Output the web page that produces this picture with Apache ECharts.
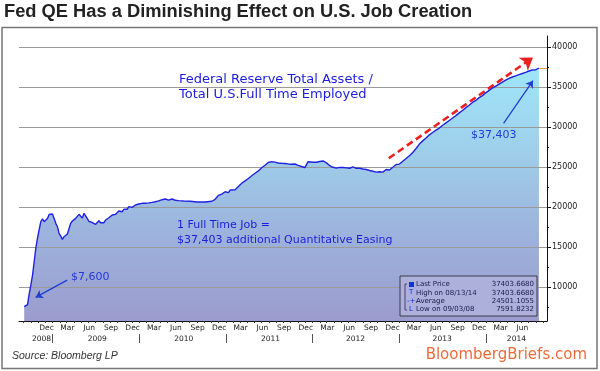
<!DOCTYPE html>
<html><head><meta charset="utf-8">
<script src="https://cdn.jsdelivr.net/npm/echarts@6/dist/echarts.min.js"></script>
<style>html,body{margin:0;padding:0;background:#fff}#c{width:600px;height:371px}</style>
</head><body><div id="c"></div>
<script>
const dates = [
'2008-09-03','2008-09-10','2008-09-17','2008-09-24','2008-10-01','2008-10-08','2008-10-15','2008-10-22','2008-10-29','2008-11-05',
'2008-11-12','2008-11-19','2008-11-26','2008-12-03','2008-12-10','2008-12-17','2008-12-24','2008-12-31','2009-01-07','2009-01-14',
'2009-01-21','2009-01-28','2009-02-04','2009-02-11','2009-02-18','2009-02-25','2009-03-04','2009-03-11','2009-03-18','2009-03-25',
'2009-04-01','2009-04-08','2009-04-15','2009-04-22','2009-04-29','2009-05-06','2009-05-13','2009-05-20','2009-05-27','2009-06-03',
'2009-06-10','2009-06-17','2009-06-24','2009-07-01','2009-07-08','2009-07-15','2009-07-22','2009-07-29','2009-08-05','2009-08-12',
'2009-08-19','2009-08-26','2009-09-02','2009-09-09','2009-09-16','2009-09-23','2009-09-30','2009-10-07','2009-10-14','2009-10-21',
'2009-10-28','2009-11-04','2009-11-11','2009-11-18','2009-11-25','2009-12-02','2009-12-09','2009-12-16','2009-12-23','2009-12-30',
'2010-01-06','2010-01-13','2010-01-20','2010-01-27','2010-02-10','2010-02-24','2010-03-10','2010-03-24','2010-04-07','2010-04-21',
'2010-05-05','2010-05-19','2010-06-02','2010-06-16','2010-07-07','2010-08-04','2010-09-01','2010-10-06','2010-11-03','2010-11-17',
'2010-12-01','2010-12-15','2010-12-29','2011-01-12','2011-01-19','2011-01-26','2011-02-09','2011-02-23','2011-03-09','2011-03-23',
'2011-04-06','2011-04-20','2011-05-04','2011-05-18','2011-06-01','2011-06-15','2011-06-29','2011-07-13','2011-07-27','2011-08-10',
'2011-08-24','2011-09-07','2011-09-21','2011-10-05','2011-10-19','2011-11-02','2011-11-16','2011-11-30','2011-12-07','2011-12-14',
'2011-12-21','2012-01-04','2012-01-18','2012-02-01','2012-02-15','2012-02-29','2012-03-14','2012-03-28','2012-04-11','2012-04-25',
'2012-05-09','2012-05-23','2012-06-06','2012-06-20','2012-07-04','2012-07-18','2012-08-01','2012-08-15','2012-08-29','2012-09-12',
'2012-09-26','2012-10-03','2012-10-10','2012-10-17','2012-10-24','2012-11-07','2012-11-21','2012-12-05','2012-12-19','2013-01-02',
'2013-01-16','2013-01-30','2013-02-13','2013-02-27','2013-03-13','2013-03-27','2013-04-10','2013-04-24','2013-05-08','2013-05-22',
'2013-06-05','2013-06-19','2013-07-03','2013-07-17','2013-07-31','2013-08-14','2013-08-28','2013-09-11','2013-09-25','2013-10-09',
'2013-10-23','2013-11-06','2013-11-20','2013-12-04','2013-12-18','2014-01-01','2014-01-15','2014-01-29','2014-02-12','2014-02-26',
'2014-03-12','2014-03-26','2014-04-09','2014-04-23','2014-05-07','2014-05-21','2014-06-04','2014-06-18','2014-07-02','2014-07-16',
'2014-07-30','2014-08-06','2014-08-13'];
const values = [
7592,7700,7850,9200,10300,11500,13200,14900,16150,17200,
18200,18550,18200,18000,18600,19100,19050,19160,18600,18000,
17580,16750,16400,16000,16330,16550,16660,16830,18000,18290,
18500,18620,18700,19125,19300,18650,19250,19375,18600,18250,
18200,18100,18000,17880,18000,18330,18080,17880,18080,18410,
18500,18700,18830,19040,19250,19125,19330,19540,19660,19450,
19750,19580,19750,20080,19870,20000,20160,20290,20250,20410,
20410,20500,20650,20500,20550,20620,20700,20800,20950,21040,
20900,21040,20880,20830,20790,20750,20660,20660,20760,21000,
21500,21650,21950,21830,22160,21950,22200,22600,23000,23300,
23600,23950,24250,24550,24950,25250,25600,25700,25650,25540,
25500,25480,25420,25375,25410,25250,25100,24970,25200,25700,
25830,25625,25625,25720,25790,25550,25220,25000,24900,24990,
24970,24930,24880,25050,24875,24875,24780,24720,24600,24500,
24400,24380,24450,24580,24400,24720,24660,25000,25350,25400,
25750,26100,26450,26850,27350,27900,28300,28650,29050,29350,
29650,29900,30250,30550,30850,31150,31450,31800,32100,32450,
32750,33100,33350,33700,33950,34300,34600,34900,35150,35400,
35650,35900,36100,36280,36430,36580,36720,36850,37030,37150,
37170,37280,37403];

const yTicks = [10000,15000,20000,25000,30000,35000,40000];
const yMinorTicks = [7500,12500,17500,22500,27500,32500,37500];
const monthLabels = ['Dec','Mar','Jun','Sep','Dec','Mar','Jun','Sep','Dec','Mar','Jun','Sep','Dec','Mar','Jun','Sep','Dec','Mar','Jun','Sep','Dec','Mar','Jun'];
const monthLabelDates = ['2008-12-06','2009-03-04','2009-06-04','2009-09-04','2009-12-04','2010-03-04','2010-06-04','2010-09-04','2010-12-04','2011-03-04','2011-06-04','2011-09-04','2011-12-04','2012-03-04','2012-06-04','2012-09-04','2012-12-04','2013-03-04','2013-06-04','2013-09-04','2013-12-04','2014-03-04','2014-06-04'];
const yearLabels = ['2008','2009','2010','2011','2012','2013','2014'];
const yearLabelDates = ['2008-11-15','2009-07-08','2010-07-08','2011-07-08','2012-07-01','2013-07-01','2014-05-10'];
const yearSeparatorDates = ['2009-01-01','2010-01-01','2011-01-01','2012-01-01','2013-01-01','2014-01-01'];
const legendLabels = ['Last Price','High on 08/13/14','Average','Low on 09/03/08'];
const legendValues = ['37403.6680','37403.6680','24501.1055','7591.8232'];
const xRange = ['2008-08-12','2014-09-16'];
const yRange = [5800, 41400];

const ts = s => Date.parse(s + 'T00:00:00Z');
const seriesData = dates.map((d, i) => [ts(d), values[i]]);
const monthTickTs = [];
for (let y = 2008; y <= 2014; y++) for (let m = 0; m < 12; m++) {
  const t = Date.UTC(y, m, 1);
  if (t >= ts(xRange[0]) && t <= ts(xRange[1])) monthTickTs.push(t);
}
const monthMap = {}; monthLabelDates.forEach((d, i) => monthMap[ts(d)] = monthLabels[i]);
const yearMap = {}; yearLabelDates.forEach((d, i) => yearMap[ts(d)] = yearLabels[i]);

const FONT = '"DejaVu Sans", Verdana, sans-serif';
const chart = echarts.init(document.getElementById('c'), null, {renderer: 'canvas'});
const lastIdx = dates.length - 1;
const Z = 100;

chart.setOption({
  animation: false,
  backgroundColor: '#ffffff',
  grid: {left: 19, right: 53, top: 36, bottom: 50, containLabel: false},
  xAxis: [{
    type: 'value', min: ts(xRange[0]), max: ts(xRange[1]), scale: true,
    axisLine: {show: true, lineStyle: {color: '#111', width: 1}},
    axisTick: {show: true, customValues: monthTickTs, length: 2, lineStyle: {color: '#333'}},
    axisLabel: {customValues: monthLabelDates.map(ts), formatter: v => monthMap[v] || '',
      fontSize: 7.5, fontFamily: FONT, color: '#222', margin: 3, hideOverlap: false},
    splitLine: {show: false}
  }, {
    type: 'value', min: ts(xRange[0]), max: ts(xRange[1]), scale: true, position: 'bottom', offset: 13,
    axisLine: {show: false},
    axisTick: {show: true, customValues: yearSeparatorDates.map(ts), length: 9, lineStyle: {color: '#555'}},
    axisLabel: {customValues: yearLabelDates.map(ts), formatter: v => yearMap[v] || '',
      fontSize: 7.5, fontFamily: FONT, color: '#222', margin: 1, hideOverlap: false},
    splitLine: {show: false}
  }],
  yAxis: [{
    type: 'value', position: 'right', min: yRange[0], max: yRange[1],
    axisLine: {show: true, lineStyle: {color: '#111'}},
    axisTick: {show: true, customValues: yTicks, length: 4, lineStyle: {color: '#111'}},
    axisLabel: {customValues: yTicks, formatter: v => String(v), fontSize: 8, fontFamily: FONT, color: '#222', margin: 5},
    splitLine: {show: false}
  }, {
    type: 'value', position: 'right', min: yRange[0], max: yRange[1],
    axisLine: {show: false},
    axisTick: {show: true, customValues: yMinorTicks, length: 2, lineStyle: {color: '#111'}},
    axisLabel: {show: false},
    splitLine: {show: false}
  }],
  series: [{
    type: 'line', name: 'area', data: seriesData, showSymbol: false, z: 1,
    lineStyle: {width: 0},
    areaStyle: {opacity: 1, color: new echarts.graphic.LinearGradient(0, 0, 0, 1, [
      {offset: 0, color: '#9fe6fa'},
      {offset: 0.38, color: '#9ecbe8'},
      {offset: 0.62, color: '#9db5de'},
      {offset: 1, color: '#9b9ccd'}])},
    markLine: {silent: true, symbol: 'none', animation: false,
      label: {show: false},
      lineStyle: {color: '#9a9a9a', width: 1, type: 'solid'},
      data: yTicks.map(v => ({yAxis: v}))}
  }, {
    type: 'line', name: 'line', data: seriesData, showSymbol: false, z: 10,
    lineStyle: {color: '#1f22e0', width: 1.4},
    markLine: {silent: true, animation: false, symbol: ['none', 'arrow'], symbolSize: 7,
      label: {show: false},
      data: [
        [{coord: [ts('2012-11-18'), 26125], lineStyle: {color: '#ec2020', width: 2.6, type: [7, 4]}, symbolSize: 12},
         {coord: [ts('2014-07-19'), 38725], symbolSize: 12}],
        [{coord: [ts('2014-03-17'), 30500], lineStyle: {color: '#1f3fd0', width: 1.3, type: 'solid'}},
         {coord: [ts('2014-07-19'), 35825]}],
        [{coord: [ts('2009-03-03'), 10912], lineStyle: {color: '#1f3fd0', width: 1.3, type: 'solid'}},
         {coord: [ts('2008-10-21'), 8750]}],
        [{coord: [ts(dates[lastIdx]), values[lastIdx]], symbol: 'none', lineStyle: {color: '#f0a040', width: 1, type: 'solid'}},
         {coord: [ts(xRange[1]), values[lastIdx]], symbol: 'none'}]
      ]}
  }],
  graphic: [
    {type: 'rect', z: 0, shape: {x: 2, y: 27.5, width: 595, height: 341}, style: {fill: 'none', stroke: '#777', lineWidth: 1.5}},
    {type: 'text', x: 4, y: 3, z: Z, style: {text: 'Fed QE Has a Diminishing Effect on U.S. Job Creation',
      font: 'bold 18.3px "Liberation Sans Narrow", "Arial Narrow", "Liberation Sans", sans-serif', fill: '#222'}},
    {type: 'text', x: 179, y: 72, z: Z, style: {text: 'Federal Reserve Total Assets /\nTotal U.S.Full Time Employed',
      font: '13px ' + FONT, lineHeight: 15, fill: '#1c1ce0'}},
    {type: 'text', x: 177, y: 218, z: Z, style: {text: '1 Full Time Job =\n$37,403 additional Quantitative Easing',
      font: '11px ' + FONT, lineHeight: 15, fill: '#1c1ce0'}},
    {type: 'text', x: 71, y: 272, z: Z, style: {text: '$7,600', font: '11px ' + FONT, fill: '#2438d8'}},
    {type: 'text', x: 471, y: 130, z: Z, style: {text: '$37,403', font: '11px ' + FONT, fill: '#2438d8'}},
    {type: 'text', x: 12, y: 351, z: Z, style: {text: 'Source: Bloomberg LP', font: 'italic 10.5px "Liberation Sans", Arial, sans-serif', fill: '#333'}},
    {type: 'text', x: 587, y: 348, z: Z, style: {text: 'BloombergBriefs.com', font: '15px ' + FONT, fill: '#ee6a3a', textAlign: 'right'}},
    {type: 'rect', z: Z, shape: {x: 400, y: 276, width: 137, height: 40}, style: {fill: '#acb0da', stroke: '#3a3a4a', lineWidth: 1}},
    {type: 'rect', z: Z + 1, shape: {x: 409, y: 282, width: 5, height: 5}, style: {fill: '#1030e0'}},
    {type: 'polyline', z: Z + 1, shape: {points: [[407, 284], [405, 284], [405, 310], [407, 310]]}, style: {stroke: '#2a2a5a', lineWidth: 0.8, fill: 'none'}},
    {type: 'text', z: Z + 1, x: 409, y: 289, style: {text: 'T', font: '7px ' + FONT, fill: '#1030e0'}},
    {type: 'text', z: Z + 1, x: 407, y: 297.5, style: {text: '-+-', font: '7px ' + FONT, fill: '#1030e0'}},
    {type: 'text', z: Z + 1, x: 409, y: 306, style: {text: 'L', font: '7px ' + FONT, fill: '#1030e0'}},
    ...legendLabels.map((t, i) => ({type: 'text', z: Z + 1, x: 416, y: 281 + i * 8.3, style: {text: t, font: '7px ' + FONT, fill: '#1a1a48'}})),
    ...legendValues.map((t, i) => ({type: 'text', z: Z + 1, x: 534, y: 281 + i * 8.3, style: {text: t, font: '7px ' + FONT, fill: '#1a1a48', textAlign: 'right'}}))
  ]
});
</script>
</body></html>
